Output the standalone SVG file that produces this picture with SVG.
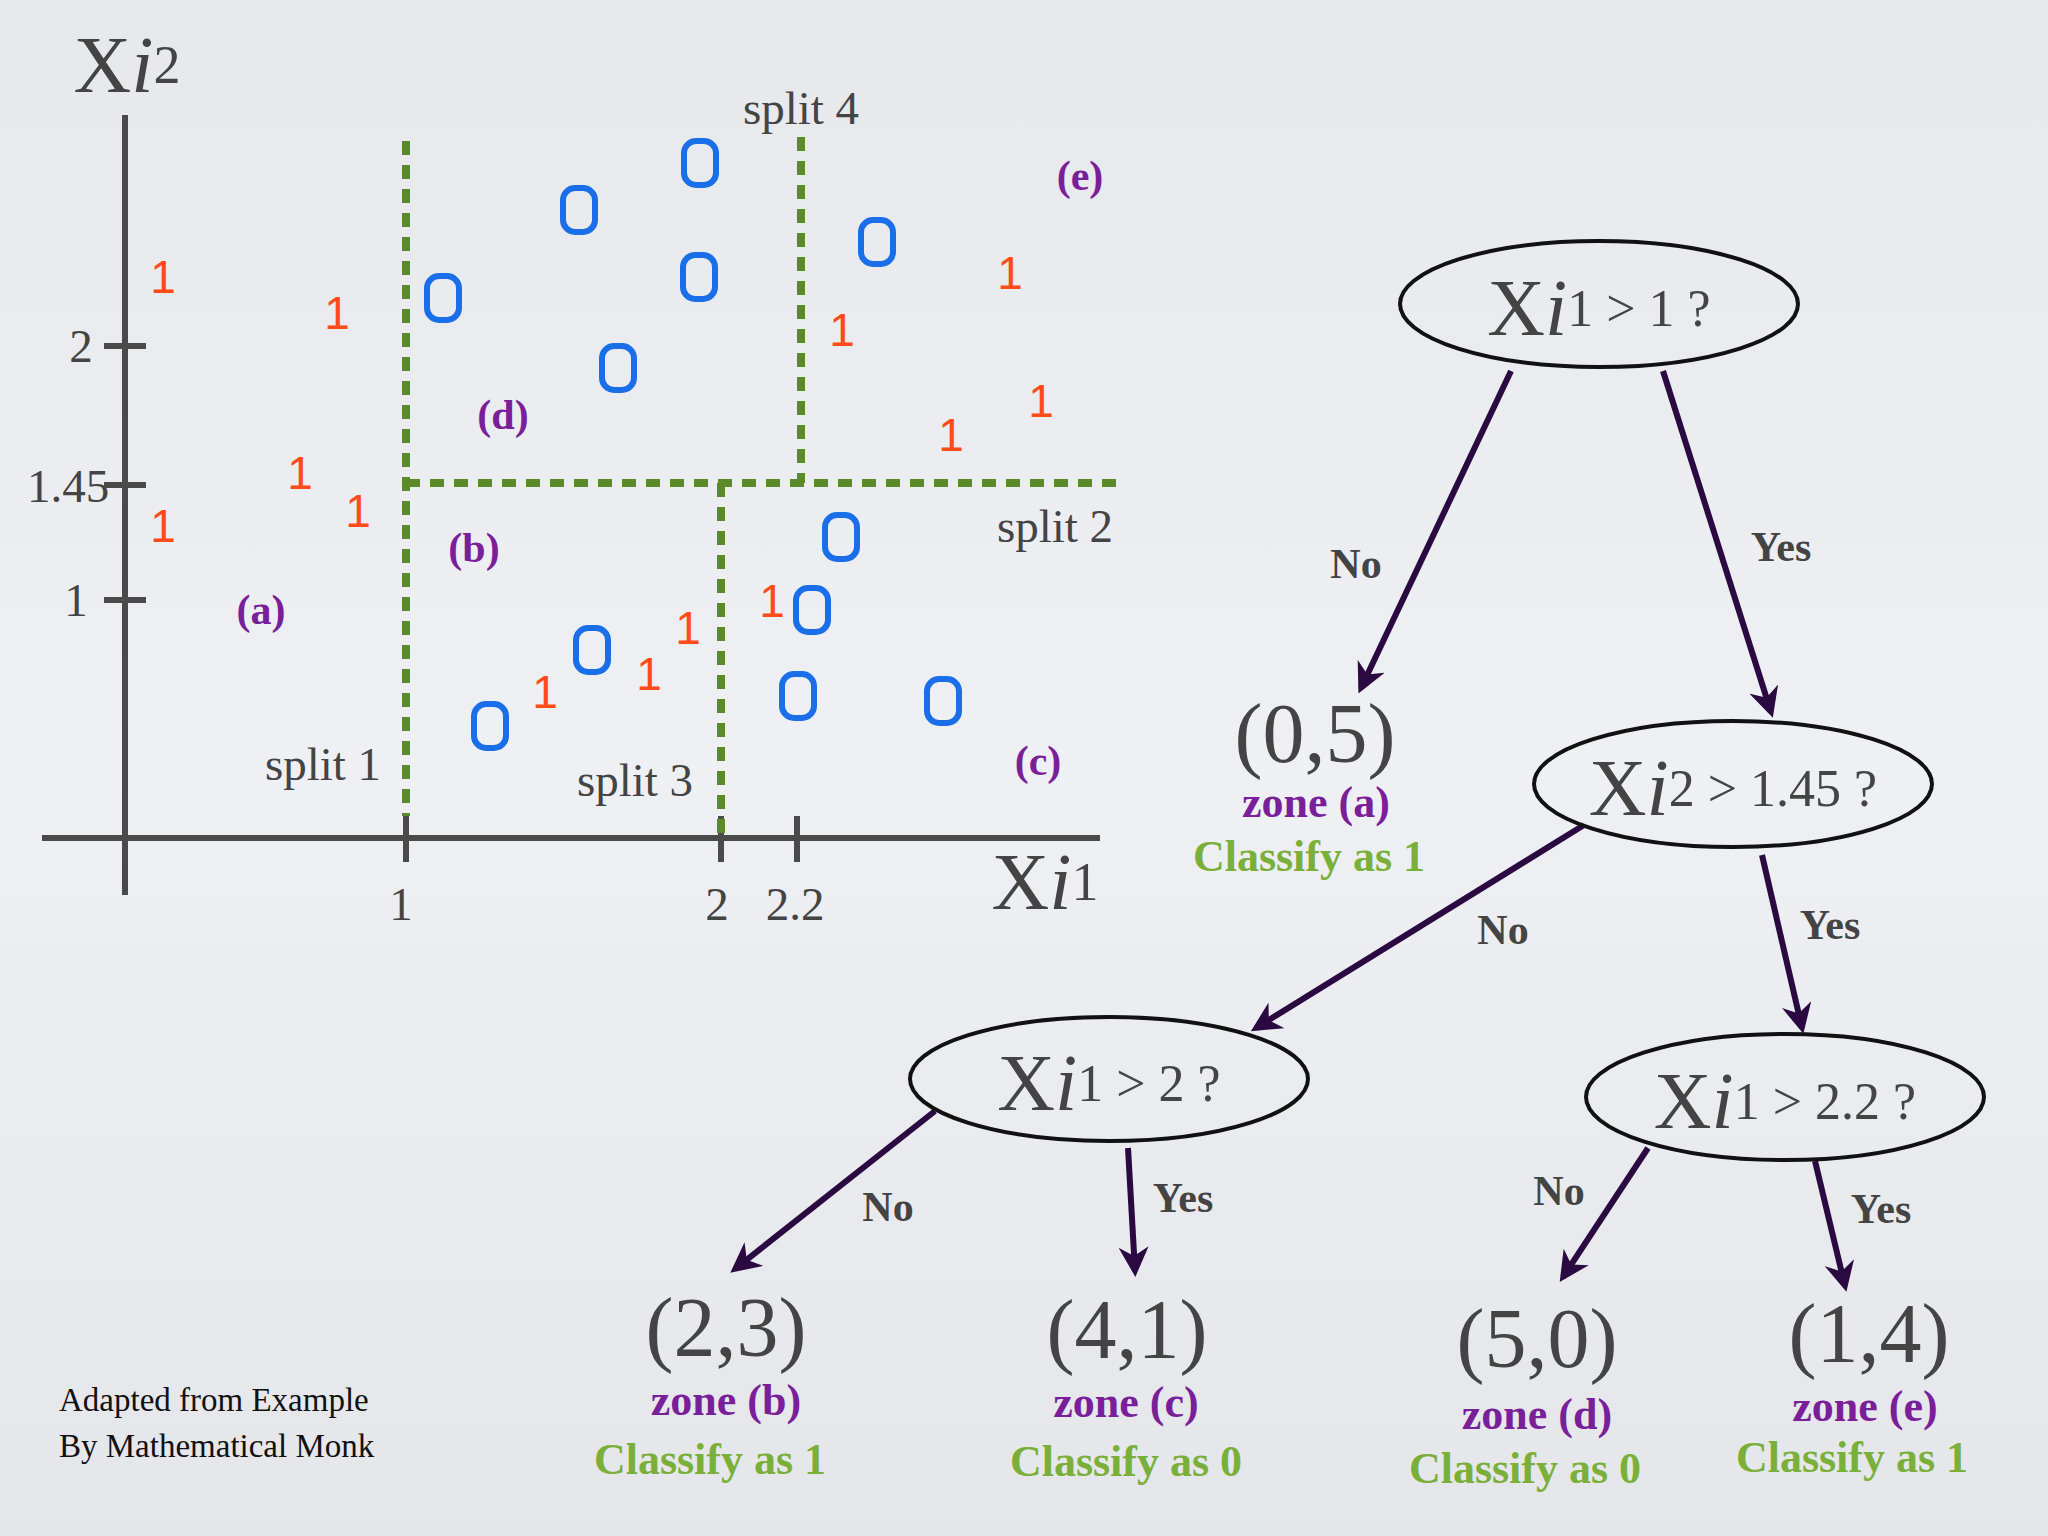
<svg xmlns="http://www.w3.org/2000/svg" width="2048" height="1536" viewBox="0 0 2048 1536">
<defs>
<linearGradient id="bg" x1="0" y1="0" x2="0" y2="1"><stop offset="0" stop-color="#e6e8ec"/><stop offset="0.5" stop-color="#eff0f3"/><stop offset="1" stop-color="#e4e6ea"/></linearGradient>
<marker id="ah" viewBox="0 0 10 10" refX="8" refY="5" markerWidth="5" markerHeight="5" orient="auto" markerUnits="strokeWidth"><path d="M0,0 L10,5 L0,10 L3,5 z" fill="#2a0a40"/></marker>
<style>
text{font-family:"Liberation Serif","Times New Roman",serif;dominant-baseline:central;text-anchor:middle}
.ax{stroke:#4a4a4a;stroke-width:6;fill:none}
.dash{stroke:#5a8a2a;stroke-width:8;stroke-dasharray:14 10;fill:none}
.gl{fill:#444;font-size:47px}
.sp{fill:#444;font-size:47px}
.zn{fill:#7a1f9a;font-size:42px;font-weight:bold}
.zl{fill:#7a1f9a;font-size:44px;font-weight:bold}
.one{fill:#ff4a1a;font-family:"Liberation Sans",Arial,sans-serif;font-size:46px}
.zero{fill:none;stroke:#1a6fe8;stroke-width:6}
.el{fill:none;stroke:#111;stroke-width:4}
.nt{fill:#444;font-size:52px}
.ar{stroke:#2a0a40;stroke-width:6;fill:none;marker-end:url(#ah)}
.yn{fill:#444;font-size:42px;font-weight:bold}
.lv{fill:#444;font-size:84px}
.cl{fill:#7ab03a;font-size:44px;font-weight:bold}
.ft{fill:#111;font-size:33px;text-anchor:start}
</style>
</defs>
<rect width="2048" height="1536" fill="url(#bg)"/>
<g id="plot">
<path class="ax" d="M125,115 V895 M42,838 H1100 M104,346 H146 M104,485 H146 M104,600 H146 M406,816 V862 M721,816 V862 M797,816 V862"/>
<text class="gl" x="81" y="346">2</text><text class="gl" x="68" y="486">1.45</text><text class="gl" x="76" y="600">1</text>
<text class="gl" x="401" y="904">1</text><text class="gl" x="717" y="904">2</text><text class="gl" x="795" y="904">2.2</text>
<text x="127" y="65" fill="#444" font-size="80"><tspan>X</tspan><tspan font-style="italic">i</tspan><tspan font-size="54">2</tspan></text>
<text x="1045" y="882" fill="#444" font-size="80"><tspan>X</tspan><tspan font-style="italic">i</tspan><tspan font-size="54">1</tspan></text>
<path class="dash" d="M406,141 V816 M406,483 H1117 M721,483 V836 M801,137 V483"/>
<text class="sp" x="801" y="108">split 4</text><text class="sp" x="1055" y="526">split 2</text>
<text class="sp" x="323" y="764">split 1</text><text class="sp" x="635" y="780">split 3</text>
<text class="zn" x="1080" y="176">(e)</text><text class="zn" x="503" y="415">(d)</text><text class="zn" x="474" y="548">(b)</text><text class="zn" x="261" y="610">(a)</text><text class="zn" x="1038" y="761">(c)</text>
<g>
<text class="one" x="163" y="277">1</text><text class="one" x="337" y="313">1</text><text class="one" x="842" y="330">1</text><text class="one" x="1010" y="273">1</text><text class="one" x="1041" y="401">1</text><text class="one" x="951" y="435">1</text><text class="one" x="300" y="473">1</text><text class="one" x="358" y="511">1</text><text class="one" x="163" y="526">1</text><text class="one" x="688" y="628">1</text><text class="one" x="772" y="601">1</text><text class="one" x="649" y="674">1</text><text class="one" x="545" y="692">1</text>
</g>
<g>
<rect class="zero" x="684" y="141" width="32" height="44" rx="12"/><rect class="zero" x="563" y="188" width="32" height="44" rx="12"/><rect class="zero" x="427" y="276" width="32" height="44" rx="12"/><rect class="zero" x="683" y="255" width="32" height="44" rx="12"/><rect class="zero" x="861" y="220" width="32" height="44" rx="12"/><rect class="zero" x="602" y="346" width="32" height="44" rx="12"/><rect class="zero" x="825" y="515" width="32" height="44" rx="12"/><rect class="zero" x="796" y="588" width="32" height="44" rx="12"/><rect class="zero" x="576" y="628" width="32" height="44" rx="12"/><rect class="zero" x="782" y="674" width="32" height="44" rx="12"/><rect class="zero" x="927" y="679" width="32" height="44" rx="12"/><rect class="zero" x="474" y="704" width="32" height="44" rx="12"/>
</g>
</g>
<g id="connectors">
<line class="ar" x1="1511" y1="371" x2="1361" y2="688"/><line class="ar" x1="1663" y1="371" x2="1771" y2="712"/>
<line class="ar" x1="1584" y1="825" x2="1256" y2="1028"/><line class="ar" x1="1762" y1="855" x2="1802" y2="1028"/>
<line class="ar" x1="935" y1="1111" x2="735" y2="1269"/><line class="ar" x1="1128" y1="1148" x2="1135" y2="1271"/>
<line class="ar" x1="1648" y1="1148" x2="1563" y2="1277"/><line class="ar" x1="1815" y1="1161" x2="1845" y2="1286"/>
<text class="yn" x="1356" y="564">No</text><text class="yn" x="1781" y="547">Yes</text><text class="yn" x="1503" y="930">No</text><text class="yn" x="1830" y="925">Yes</text>
<text class="yn" x="888" y="1207">No</text><text class="yn" x="1183" y="1198">Yes</text><text class="yn" x="1559" y="1191">No</text><text class="yn" x="1881" y="1209">Yes</text>
</g>
<g id="n1"><ellipse class="el" cx="1599" cy="304" rx="199" ry="63"/><text class="nt" x="1599" y="308"><tspan font-size="80">X</tspan><tspan font-size="80" font-style="italic">i</tspan><tspan>1 &gt; 1 ?</tspan></text></g>
<g id="n2"><ellipse class="el" cx="1733" cy="784" rx="199" ry="63"/><text class="nt" x="1733" y="788"><tspan font-size="80">X</tspan><tspan font-size="80" font-style="italic">i</tspan><tspan>2 &gt; 1.45 ?</tspan></text></g>
<g id="n3"><ellipse class="el" cx="1109" cy="1079" rx="199" ry="62"/><text class="nt" x="1109" y="1083"><tspan font-size="80">X</tspan><tspan font-size="80" font-style="italic">i</tspan><tspan>1 &gt; 2 ?</tspan></text></g>
<g id="n4"><ellipse class="el" cx="1785" cy="1097" rx="199" ry="63"/><text class="nt" x="1785" y="1101"><tspan font-size="80">X</tspan><tspan font-size="80" font-style="italic">i</tspan><tspan>1 &gt; 2.2 ?</tspan></text></g>
<g id="leafA"><text class="lv" x="1315" y="733">(0,5)</text><text class="zl" x="1316" y="802">zone (a)</text><text class="cl" x="1309" y="856">Classify as 1</text></g>
<g id="leafB"><text class="lv" x="726" y="1327">(2,3)</text><text class="zl" x="726" y="1400">zone (b)</text><text class="cl" x="710" y="1459">Classify as 1</text></g>
<g id="leafC"><text class="lv" x="1127" y="1329">(4,1)</text><text class="zl" x="1126" y="1402">zone (c)</text><text class="cl" x="1126" y="1461">Classify as 0</text></g>
<g id="leafD"><text class="lv" x="1537" y="1338">(5,0)</text><text class="zl" x="1537" y="1414">zone (d)</text><text class="cl" x="1525" y="1468">Classify as 0</text></g>
<g id="leafE"><text class="lv" x="1869" y="1333">(1,4)</text><text class="zl" x="1865" y="1406">zone (e)</text><text class="cl" x="1852" y="1457">Classify as 1</text></g>
<g id="footnote"><text class="ft" x="59" y="1400">Adapted from Example</text><text class="ft" x="59" y="1446">By Mathematical Monk</text></g>
</svg>
